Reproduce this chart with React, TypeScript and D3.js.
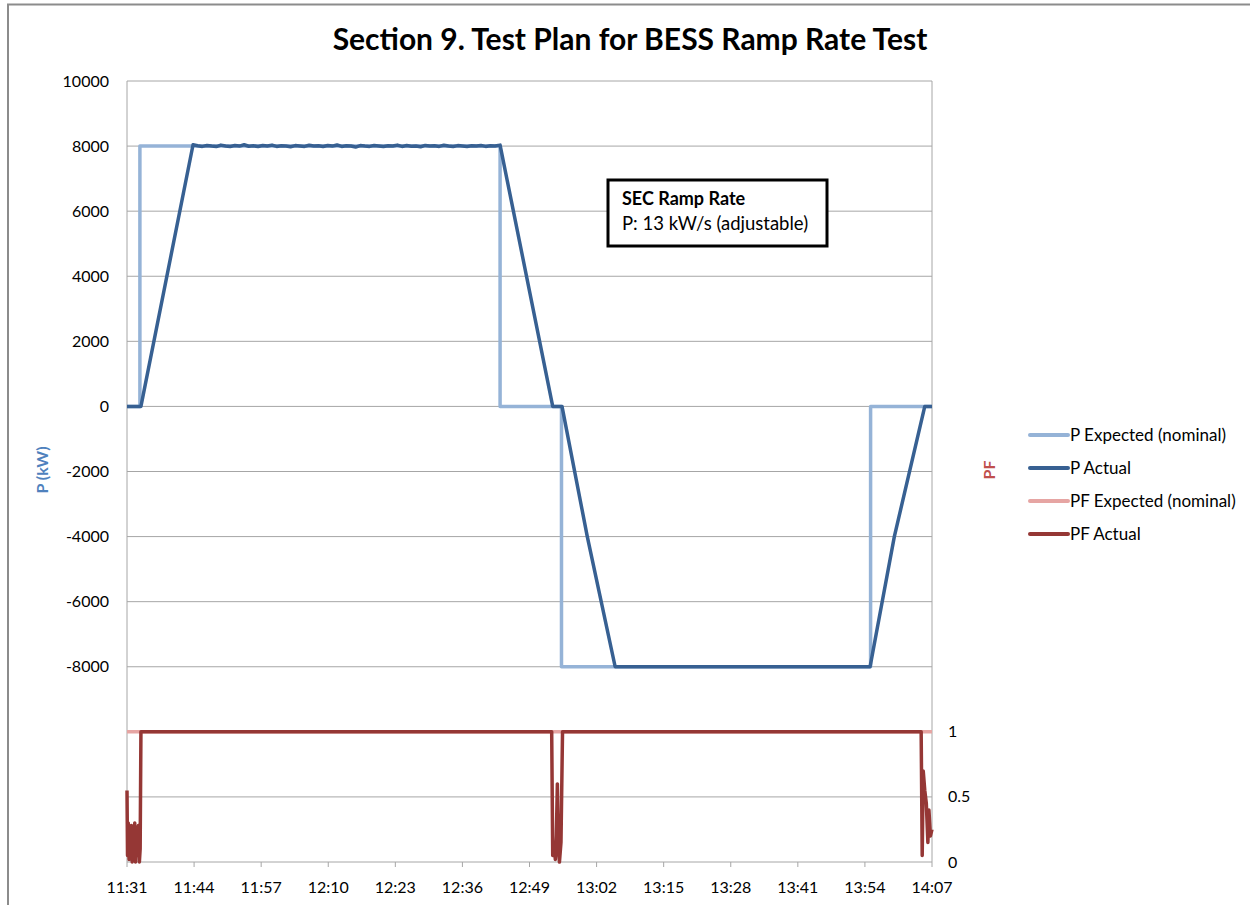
import React from "react";
import * as d3 from "d3";

// Time in minutes after 11:31
const xTickMinutes = [0, 13, 26, 39, 52, 65, 78, 91, 104, 117, 130, 143, 156];
const xTickLabels = ["11:31", "11:44", "11:57", "12:10", "12:23", "12:36", "12:49", "13:02", "13:15", "13:28", "13:41", "13:54", "14:07"];
const pTicks = [-14000, -12000, -10000, -8000, -6000, -4000, -2000, 0, 2000, 4000, 6000, 8000, 10000];
const pfTickValues = [0, 0.5, 1];

const pExpected: [number, number][] = [
  [0, 0], [2.5, 0], [2.5, 8000], [72.3, 8000], [72.3, 0], [84.2, 0], [84.2, -8000], [144.1, -8000], [144.1, 0], [156, 0],
];

const plateauTimes = [12.8, 13.7, 14.6, 15.5, 16.4, 17.3, 18.2, 19.1, 20.0, 20.9, 21.8, 22.7, 23.6, 24.5, 25.4, 26.3, 27.2, 28.1, 29.0, 29.9, 30.8, 31.7, 32.6, 33.5, 34.4, 35.3, 36.2, 37.1, 38.0, 38.9, 39.8, 40.7, 41.6, 42.5, 43.4, 44.3, 45.2, 46.1, 47.0, 47.9, 48.8, 49.7, 50.6, 51.5, 52.4, 53.3, 54.2, 55.1, 56.0, 56.9, 57.8, 58.7, 59.6, 60.5, 61.4, 62.3, 63.2, 64.1, 65.0, 65.9, 66.8, 67.7, 68.6, 69.5, 70.4, 71.3, 72.3];
const plateauValues = [8040, 8010, 7990, 8020, 8000, 7985, 8030, 8005, 7990, 8015, 8000, 8040, 7995, 8010, 7985, 8020, 8000, 8030, 7990, 8010, 8000, 7980, 8015, 8005, 7990, 8025, 8000, 8010, 7985, 8020, 8000, 8035, 7990, 8010, 8000, 7970, 8015, 8000, 7990, 8020, 8005, 7985, 8010, 8000, 8030, 7990, 8015, 7995, 8005, 7980, 8020, 8000, 8010, 7990, 8025, 8000, 7985, 8015, 8005, 7990, 8010, 8000, 8020, 7990, 8010, 8000, 8030];

const pActualStart: [number, number][] = [[0, 0], [2.7, 0]];
const pActualEnd: [number, number][] = [
  [74.5, 6300], [82.5, 0], [84.3, 0], [89.2, -4000], [94.6, -8000], [144.0, -8000], [148.7, -4000], [154.6, 0], [156, 0],
];

const pfExpected: [number, number][] = [[0, 1], [156, 1]];
const pfActual: [number, number][] = [
  [0, 0.55], [0.1, 0.05], [0.25, 0.3], [0.4, 0.02], [0.55, 0.25], [0.7, 0.1], [0.85, 0.28], [1.0, 0.0], [1.15, 0.22], [1.3, 0.05], [1.5, 0.3], [1.65, 0.0], [1.8, 0.25], [2.0, 0.05], [2.2, 0.28], [2.4, 0.0], [2.55, 0.1], [2.7, 1.0],
  [82.3, 1], [82.5, 0.05], [82.8, 0.15], [83.0, 0.02], [83.2, 0.2], [83.4, 0.6], [83.6, 0.1], [83.8, 0.0], [84.1, 0.15], [84.4, 1],
  [153.9, 1], [154.1, 0.05], [154.3, 0.7], [154.6, 0.55], [154.9, 0.45], [155.2, 0.15], [155.4, 0.4], [155.7, 0.2], [156, 0.25],
];

const legendItems = [
  { label: "P Expected (nominal)", color: "#95B3D7" },
  { label: "P Actual", color: "#376092" },
  { label: "PF Expected (nominal)", color: "#E6A5A3" },
  { label: "PF Actual", color: "#953735" },
];

const FONT = "Lato, 'Open Sans', sans-serif";

export default function App() {
  const left = 127, right = 932, top = 81, bottom = 862;
  const x = d3.scaleLinear().domain([0, 156]).range([left, right]);
  const yP = d3.scaleLinear().domain([-14000, 10000]).range([bottom, top]);
  const yPF = d3.scaleLinear().domain([0, 6]).range([bottom, top]);

  const pActual: [number, number][] = [
    ...pActualStart,
    ...plateauTimes.map((t, i) => [t, plateauValues[i]] as [number, number]),
    ...pActualEnd,
  ];

  const lineP = d3.line<[number, number]>().x((d) => x(d[0])).y((d) => yP(d[1]));
  const linePF = d3.line<[number, number]>().x((d) => x(d[0])).y((d) => yPF(d[1]));

  const grid = "#A6A6A6";

  return (
    <svg width={1250} height={905} style={{ position: "absolute", left: 0, top: 0, background: "#fff" }} fontFamily={FONT}>
      <rect x={8} y={4.5} width={1260} height={920} fill="white" stroke="#8C8C8C" strokeWidth={2} />
      <text x={630} y={50} textAnchor="middle" fontSize={30} fontWeight="bold" fill="#000">
        Section 9. Test Plan for BESS Ramp Rate Test
      </text>

      {pTicks.map((t) => (
        <line key={"g" + t} x1={left} x2={right} y1={yP(t)} y2={yP(t)} stroke={grid} strokeWidth={1} />
      ))}
      <line x1={left} x2={left} y1={top} y2={bottom} stroke={grid} />
      <line x1={right} x2={right} y1={top} y2={bottom} stroke={grid} />
      {xTickMinutes.map((m, i) => (
        <g key={"x" + m}>
          <line x1={x(m)} x2={x(m)} y1={bottom} y2={bottom + 5} stroke={grid} />
          <text x={x(m)} y={893} textAnchor="middle" fontSize={16} fill="#000">{xTickLabels[i]}</text>
        </g>
      ))}
      {pTicks.filter((t) => t >= -8000).map((t) => (
        <text key={"yl" + t} x={109} y={yP(t) + 5.5} textAnchor="end" fontSize={16} fill="#000">{t}</text>
      ))}
      {pfTickValues.map((t) => (
        <text key={"pf" + t} x={948} y={yPF(t) + 5.5} textAnchor="start" fontSize={16} fill="#000">{t}</text>
      ))}

      <text transform="translate(48,470) rotate(-90)" textAnchor="middle" fontSize={16} fontWeight="bold" fill="#4F81BD">P (kW)</text>
      <text transform="translate(995,470) rotate(-90)" textAnchor="middle" fontSize={16} fontWeight="bold" fill="#C0504D">PF</text>

      <path d={linePF(pfExpected) || ""} fill="none" stroke="#E6A5A3" strokeWidth={3.5} />
      <path d={lineP(pExpected) || ""} fill="none" stroke="#95B3D7" strokeWidth={3.5} strokeLinejoin="round" />
      <path d={lineP(pActual) || ""} fill="none" stroke="#376092" strokeWidth={3.5} strokeLinejoin="round" />
      <path d={linePF(pfActual) || ""} fill="none" stroke="#953735" strokeWidth={3.5} strokeLinejoin="round" />

      <rect x={608} y={180} width={219} height={66} fill="white" stroke="#000" strokeWidth={3} />
      <text x={622} y={205} fontSize={18} fontWeight="bold" fill="#000">SEC Ramp Rate</text>
      <text x={622} y={230} fontSize={18.5} fill="#000">P: 13 kW/s (adjustable)</text>

      {legendItems.map((it, i) => (
        <g key={it.label}>
          <line x1={1030} x2={1068} y1={435 + i * 33} y2={435 + i * 33} stroke={it.color} strokeWidth={4} strokeLinecap="round" />
          <text x={1070} y={441 + i * 33} fontSize={17} fill="#000">{it.label}</text>
        </g>
      ))}
    </svg>
  );
}
